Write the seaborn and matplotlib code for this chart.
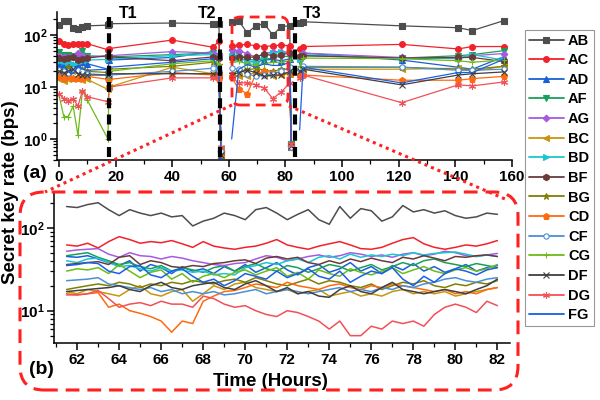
import numpy as np
import pandas as pd
import matplotlib
matplotlib.use("Agg")
import matplotlib.pyplot as plt
import matplotlib.ticker as mticker
import matplotlib.transforms as mtrans
from matplotlib.lines import Line2D
from matplotlib.patches import FancyBboxPatch
import seaborn as sns

# ---------------- data ----------------
series = ["AB", "AC", "AD", "AF", "AG", "BC", "BD", "BF", "BG", "CD", "CF", "CG", "DF", "DG", "FG"]
NA = np.nan

# top panel (a): time stamps (hours); NaN marks a gap between measurement blocks
t_top = [0, 1.7, 3.3, 5, 6.7, 8.3, 10, 17.3, 17.8, 40, 54.5, 56.5, 57.2, NA,
         61, 63.5, 66.5, 69.5, 72.5, 75.5, 78.5, 81.5, 82.0, NA,
         85, 86.2, 121, 141, 146, 157]

AB_top = [155, 190, 190, 135, 130, 140, 150, 155, 165, 170, 165, 160, 0.55, NA,
          180, 185, 110, 150, 165, 100, 145, 150, 0.8, NA, 170, 180, 150, 138, 122, 188]
AC_top = [76, 66, 65, 66, 68, 68, 68, 52, 55, 80, 58, 78, 0.6, NA,
          62, 64, 66, 62, 60, 62, 64, 62, 0.75, NA, 55, 60, 66, 54, 60, 60]
AD_top = [26, 28, 30, 26, 27, 30, 28, 22, 33, 37, 48, 40, 0.5, NA,
          45, 36, 32, 30, 33, 34, 32, 35, 0.7, NA, 40, 45, 33, 24, 22, 38]
AF_top = [48, 42, 42, 40, 38, 50, 40, 38, 38, 42, 45, 40, 0.65, NA,
          47, 44, 34, 33, 34, 36, 40, 38, 0.8, NA, 30, 40, 36, 40, 42, 50]
AG_top = [40, 38, 37, 38, 45, 40, 38, 40, 40, 48, 45, 42, 0.6, NA,
          52, 50, 44, 37, 44, 47, 48, 46, 0.75, NA, 35, 45, 37, 35, 40, 44]
BC_top = [14, 13, 14, 14, 14, 13.5, 14, 9, 10, 24, 18, 17, 0.5, NA,
          17, 16, 16, 20, 17, 16, 17, 18, 0.7, NA, 18, 22, 22, 23, 20, 25]
BD_top = [32, 30, 30, 28, 30, 32, 33, 34, 35, 40, 42, 36, 0.6, NA,
          40, 38, 31, 30, 40, 45, 47, 47, 0.8, NA, 35, 42, 35, 36, 42, 33]
BF_top = [36, 34, 36, 38, 33, 35, 36, 40, 38, 32, 38, 36, 0.55, NA,
          36, 37, 37, 38, 43, 40, 42, 45, 0.75, NA, 40, 40, 36, 37, 37, 31]
BG_top = [20, 21, 24, 20, 21, 22, 20, 19, 22, 25, 30, 27, 0.65, NA,
          18, 21, 21, 23, 21, 20, 22, 22, 0.85, NA, 20, 24, 24, 22, 22, 25]
CD_top = [16, 15, 16, 15, 15, 15, 16, 14, 14, 19, 17, 14, 0.55, NA,
          15.5, 9, 7.5, 17.5, 20, 19, 19, 18, 0.7, NA, 16, 17, 13.5, 13.5, 14.5, 16]
CF_top = [21, 20, 19, 22, 21, 20, 18, 17, 17, 20, 23, 20, 0.6, NA,
          23, 22, 18, 16, 17, 18, 20, 24, 0.7, NA, 22, 25, 24, 21, 21, 22]
CG_top = [7, 2.7, 2.7, 4.3, 1.2, 8.5, 5.6, 1.0, 20, 28, 32, 28, 0.7, NA,
          30, 31, 28, 27, 28, 30, 30, 32, 0.8, NA, 25, 36, 35, 32, 30, 33]
DF_top = [20, 19, 20, 22, 18, 17, 17, 17, 18, 18, 18, 17, 0.5, NA,
          17, 19, 21, 19, 16, 17, 17, 20, 0.75, NA, 20, 22, 11, 17, 18, 19.5]
DG_top = [7.5, 6, 5.5, 6, 4.3, 8.5, 6.5, 5.2, 10, 15, 15, 16, 0.7, NA,
          15.5, 12, 12, 11, 9.5, 6, 8, 12, 0.8, NA, 15, 17, 5, 11, 10.5, 12.5]
FG_top = [27, 26, 20, 18, 25, 22, 21, 22, 24, 30, 35, 20, 0.5, NA,
          1.0, 22, 27, 24, 28, 26, 26, 30, 0.9, NA, 1.5, 24, 12, 19, 19, 34]

# bottom panel (b): zoom on 61.5 - 82 h
t_zoom = [61.5, 62.0, 62.5, 63.0, 63.5, 64.0, 64.5, 65.0, 65.5, 66.0, 66.5, 67.0, 67.5, 68.0,
          68.5, 69.0, 69.5, 70.0, 70.5, 71.0, 71.5, 72.0, 72.5, 73.0, 73.5, 74.0, 74.5, 75.0,
          75.5, 76.0, 76.5, 77.0, 77.5, 78.0, 78.5, 79.0, 79.5, 80.0, 80.5, 81.0, 81.5, 82.0]

AB_zoom = [180, 175, 190, 200, 165, 140, 165, 150, 140, 150, 135, 140, 105, 120,
           130, 150, 140, 125, 165, 175, 150, 125, 145, 165, 125, 110, 180, 130,
           170, 160, 120, 135, 185, 155, 165, 150, 160, 140, 130, 135, 150, 145]
AC_zoom = [62, 60, 65, 57, 68, 78, 72, 65, 68, 66, 70, 64, 58, 68,
           60, 57, 55, 58, 60, 65, 72, 62, 58, 55, 60, 64, 68, 62,
           56, 55, 58, 65, 72, 76, 64, 58, 55, 58, 62, 60, 64, 70]
AD_zoom = [45, 44, 46, 42, 38, 35, 40, 30, 36, 33, 28, 34, 30, 32,
           28, 34, 30, 36, 29, 33, 38, 31, 27, 33, 36, 29, 32, 38,
           30, 34, 28, 35, 31, 37, 30, 34, 29, 32, 36, 30, 33, 35]
AF_zoom = [46, 48, 50, 44, 40, 36, 38, 34, 32, 35, 30, 33, 31, 29,
           33, 35, 30, 34, 37, 32, 30, 35, 33, 29, 32, 36, 34, 30,
           33, 36, 31, 34, 38, 35, 40, 42, 38, 36, 34, 37, 35, 33]
AG_zoom = [52, 54, 55, 56, 48, 44, 50, 46, 45, 42, 45, 43, 40, 38,
           36, 35, 37, 38, 42, 46, 44, 40, 42, 45, 47, 44, 46, 50,
           48, 45, 47, 44, 48, 50, 46, 48, 52, 50, 46, 45, 47, 49]
BC_zoom = [17, 16, 18, 17, 16, 15, 18, 20, 16, 15, 17, 18, 13, 16,
           20, 18, 21, 22, 19, 18, 17, 18, 16, 17, 18, 15, 16, 17,
           15, 16, 15, 17, 18, 16, 17, 16, 17, 15, 16, 17, 18, 19]
BD_zoom = [40, 38, 42, 43, 38, 34, 35, 32, 30, 33, 30, 31, 29, 30,
           27, 28, 27, 33, 35, 38, 36, 40, 42, 38, 44, 46, 42, 48,
           44, 47, 45, 48, 46, 50, 47, 49, 50, 51, 48, 45, 47, 45]
BF_zoom = [36, 37, 38, 39, 36, 44, 46, 36, 40, 38, 34, 33, 35, 34,
           37, 38, 40, 41, 37, 43, 45, 42, 44, 38, 36, 40, 37, 42,
           39, 43, 40, 38, 44, 42, 46, 43, 40, 45, 44, 46, 47, 45]
BG_zoom = [18, 19, 20, 21, 20, 22, 21, 19, 21, 20, 22, 21, 23, 22,
           21, 23, 24, 22, 25, 23, 21, 20, 22, 24, 21, 23, 22, 20,
           19, 21, 18, 20, 22, 21, 23, 20, 19, 21, 20, 22, 21, 23]
CD_zoom = [16, 15.5, 16, 16.5, 11, 12, 10, 9.3, 8.5, 7.5, 5.5, 7.5, 7, 13,
           15, 17, 17.5, 19, 21, 20, 19, 22, 20, 19, 18, 20, 21, 19,
           18, 20, 19, 21, 20, 19, 18, 17, 18, 16, 17, 16, 18, 19]
CF_zoom = [23, 23.5, 24, 25, 21, 20, 19, 18, 19, 17, 18, 16, 17, 16,
           17, 15.5, 16, 17, 18, 16, 17, 18, 17, 16, 17, 18, 19, 17,
           18, 17, 19, 18, 20, 19, 21, 22, 24, 25, 23, 22, 24, 25]
CG_zoom = [30, 32, 31, 33, 28, 36, 30, 25, 29, 31, 24, 28, 22, 26,
           28, 25, 29, 31, 27, 30, 33, 26, 29, 24, 31, 28, 26, 32,
           29, 27, 30, 33, 28, 31, 34, 30, 28, 31, 33, 30, 32, 36]
DF_zoom = [17, 17.5, 18, 18.5, 19, 20, 18, 17, 20, 22, 19, 18, 20, 21,
           22, 19, 18, 21, 23, 20, 17, 19, 16, 17, 15, 14.5, 18, 20,
           17, 16, 19, 22, 18, 17, 16, 17, 18, 17, 16, 18, 20, 24]
DG_zoom = [15.5, 15.5, 16, 17.5, 14, 11, 12, 12.5, 11.5, 13, 12, 12, 11, 15,
           14, 12, 11, 11.5, 10, 9, 8.5, 10, 9.5, 8.5, 7.5, 6, 7.5, 5,
           5, 6.5, 6, 7.5, 7, 7.5, 6.5, 9, 11, 12, 11, 9.5, 13, 11.5]
FG_zoom = [35, 36, 38, 37, 30, 28, 34, 35, 27, 25, 30, 32, 26, 22,
           24, 20, 23, 28, 26, 24, 30, 25, 28, 32, 26, 24, 30, 22,
           26, 30, 28, 33, 24, 20, 26, 22, 28, 32, 30, 27, 31, 33]

event_times = [17.7, 56.9, 83.4]
event_labels = ["T1", "T2", "T3"]

# ---------------- style ----------------
colors = {"AB": "#4d4d4d", "AC": "#f2222b", "AD": "#1a5fd6", "AF": "#18a05a",
          "AG": "#a55ae0", "BC": "#c8960c", "BD": "#1cc6d0", "BF": "#6b3b3b",
          "BG": "#7f7f00", "CD": "#ff6a10", "CF": "#4a8fd8", "CG": "#6cbb1a",
          "DF": "#3f3f3f", "DG": "#f25058", "FG": "#1a5fe6"}
markers = {"AB": ("s", 3.8, True), "AC": ("o", 4.2, True), "AD": ("^", 4.2, True),
           "AF": ("v", 4.2, True), "AG": ("D", 3.4, True), "BC": ("<", 4.2, True),
           "BD": (">", 4.2, True), "BF": ("h", 4.6, True), "BG": ("*", 5.0, True),
           "CD": ("p", 4.8, True), "CF": ("o", 3.8, False), "CG": ("+", 4.5, True),
           "DF": ("x", 4.0, True), "DG": ((6, 2, 0), 5.0, True), "FG": (None, 0, True)}

TOP = {"AB": AB_top, "AC": AC_top, "AD": AD_top, "AF": AF_top, "AG": AG_top,
       "BC": BC_top, "BD": BD_top, "BF": BF_top, "BG": BG_top, "CD": CD_top,
       "CF": CF_top, "CG": CG_top, "DF": DF_top, "DG": DG_top, "FG": FG_top}
ZOOM = {"AB": AB_zoom, "AC": AC_zoom, "AD": AD_zoom, "AF": AF_zoom, "AG": AG_zoom,
        "BC": BC_zoom, "BD": BD_zoom, "BF": BF_zoom, "BG": BG_zoom, "CD": CD_zoom,
        "CF": CF_zoom, "CG": CG_zoom, "DF": DF_zoom, "DG": DG_zoom, "FG": FG_zoom}

sns.set_theme(style="ticks")
plt.rcParams.update({
    "font.family": ["Liberation Sans", "DejaVu Sans"],
    "font.weight": "bold",
    "mathtext.fontset": "custom",
    "mathtext.rm": "Liberation Sans:bold",
    "mathtext.bf": "Liberation Sans:bold",
    "mathtext.it": "Liberation Sans:bold",
    "text.color": "black", "axes.labelcolor": "black",
    "xtick.color": "black", "ytick.color": "black",
    "axes.edgecolor": "black",
})

W, H = 600, 400
fig = plt.figure(figsize=(6, 4), dpi=100)


def fr(x, y):
    return (x / W, 1 - y / H)


ax1 = fig.add_axes([57 / W, 1 - 160 / H, (512 - 57) / W, (160 - 12) / H])
ax2 = fig.add_axes([54 / W, 1 - 343 / H, (510 - 54) / W, (343 - 193) / H])
for ax in (ax1, ax2):
    ax.set_yscale("log")

# top panel
for name in series:
    c = colors[name]
    m, ms, filled = markers[name]
    df = pd.DataFrame({"t": t_top, "v": TOP[name]})
    df["seg"] = df["t"].isna().cumsum()
    df = df.dropna()
    kw = {}
    if m is not None:
        kw = dict(marker=m, markersize=ms, markeredgecolor=c,
                  markerfacecolor=(c if filled else "white"), markeredgewidth=0.8)
    sns.lineplot(data=df, x="t", y="v", units="seg", estimator=None, sort=False,
                 ax=ax1, color=c, linewidth=0.9, legend=False, **kw)

# bottom panel
for name in series:
    df = pd.DataFrame({"t": t_zoom, "v": ZOOM[name]})
    sns.lineplot(data=df, x="t", y="v", estimator=None, sort=False, ax=ax2,
                 color=colors[name], linewidth=1.1, legend=False)

for x in event_times:
    ax1.axvline(x, ymin=0.02, ymax=0.98, color="black", lw=3,
                linestyle=(0, (2.4, 1.5)), zorder=6)

logfmt = mticker.FuncFormatter(lambda v, p: r"$\mathbf{10^{%d}}$" % int(round(np.log10(v))))
for ax in (ax1, ax2):
    ax.set_xlabel("")
    ax.set_ylabel("")
    ax.spines["top"].set_visible(False)
    ax.spines["right"].set_visible(False)
    for s in ("left", "bottom"):
        ax.spines[s].set_linewidth(1.1)
        ax.spines[s].set_color("black")
    ax.yaxis.set_major_locator(mticker.LogLocator(base=10, numticks=10))
    ax.yaxis.set_minor_locator(mticker.LogLocator(base=10, subs=np.arange(2, 10), numticks=10))
    ax.yaxis.set_minor_formatter(mticker.NullFormatter())
    ax.yaxis.set_major_formatter(logfmt)
    ax.tick_params(which="major", direction="out", length=5, width=1.1, labelsize=11, pad=2)
    ax.tick_params(which="minor", direction="out", length=3, width=0.9)
    for lab in ax.get_xticklabels() + ax.get_yticklabels():
        lab.set_fontweight("bold")

ax1.set_xlim(-0.7, 160)
ax1.set_ylim(0.395, 277)
ax1.xaxis.set_major_locator(mticker.MultipleLocator(20))
ax1.xaxis.set_minor_locator(mticker.MultipleLocator(10))
ax2.set_xlim(60.9, 82.6)
ax2.set_ylim(4.08, 262)
ax2.xaxis.set_major_locator(mticker.MultipleLocator(2))
ax2.xaxis.set_minor_locator(mticker.MultipleLocator(1))

# texts
tb = dict(fontweight="bold", ha="center", va="center", color="black")
for (px, lab) in zip([128, 207.5, 312], event_labels):
    fig.text(*fr(px, 13), lab, fontsize=11.5, **tb)
fig.text(*fr(35, 173), "(a)", fontsize=14, **tb)
fig.text(*fr(41, 370), "(b)", fontsize=14, **tb)
fig.text(*fr(270, 381), "Time (Hours)", fontsize=13.5, **tb)
fig.text(*fr(10.5, 192), "Secret key rate (bps)", fontsize=13.5, rotation=90, **tb)

# zoom decorations (pixel coordinates)
ident = mtrans.IdentityTransform()
red = "#ff2020"
small = FancyBboxPatch((232, H - 105), 56, 88, boxstyle="round,pad=0,rounding_size=8",
                       transform=ident, fill=False, edgecolor=red, lw=2.0,
                       linestyle=(0, (3.5, 2.2)), zorder=10)
big = FancyBboxPatch((20, H - 390), 498, 198, boxstyle="round,pad=0,rounding_size=24",
                     transform=ident, fill=False, edgecolor=red, lw=2.2,
                     linestyle=(0, (4.5, 2.6)), zorder=10)
fig.add_artist(small)
fig.add_artist(big)
fig.add_artist(Line2D([232, 45], [H - 105, H - 192], transform=ident, color=red, lw=2.2,
                      linestyle=(0, (1, 1.3)), dash_capstyle="butt", zorder=10))
fig.add_artist(Line2D([289, 505], [H - 106, H - 199], transform=ident, color=red, lw=2.2,
                      linestyle=(0, (1, 1.3)), dash_capstyle="butt", zorder=10))

# legend
handles = []
for name in series:
    c = colors[name]
    m, ms, filled = markers[name]
    if m is None:
        handles.append(Line2D([], [], color=c, lw=1.3))
    else:
        handles.append(Line2D([], [], color=c, lw=1.3, marker=m, markersize=ms,
                              markeredgecolor=c, markerfacecolor=(c if filled else "white"),
                              markeredgewidth=0.8))
leg = fig.legend(handles, series, loc="upper left", bbox_to_anchor=fr(525, 30),
                 bbox_transform=fig.transFigure, frameon=True, fancybox=False,
                 edgecolor="#7f7f7f", prop={"weight": "bold", "size": 10.5},
                 handlelength=2.4, handletextpad=0.3, labelspacing=0.385,
                 borderpad=0.25, borderaxespad=0)
leg.get_frame().set_linewidth(0.8)

fig.savefig("out.png", dpi=100)
